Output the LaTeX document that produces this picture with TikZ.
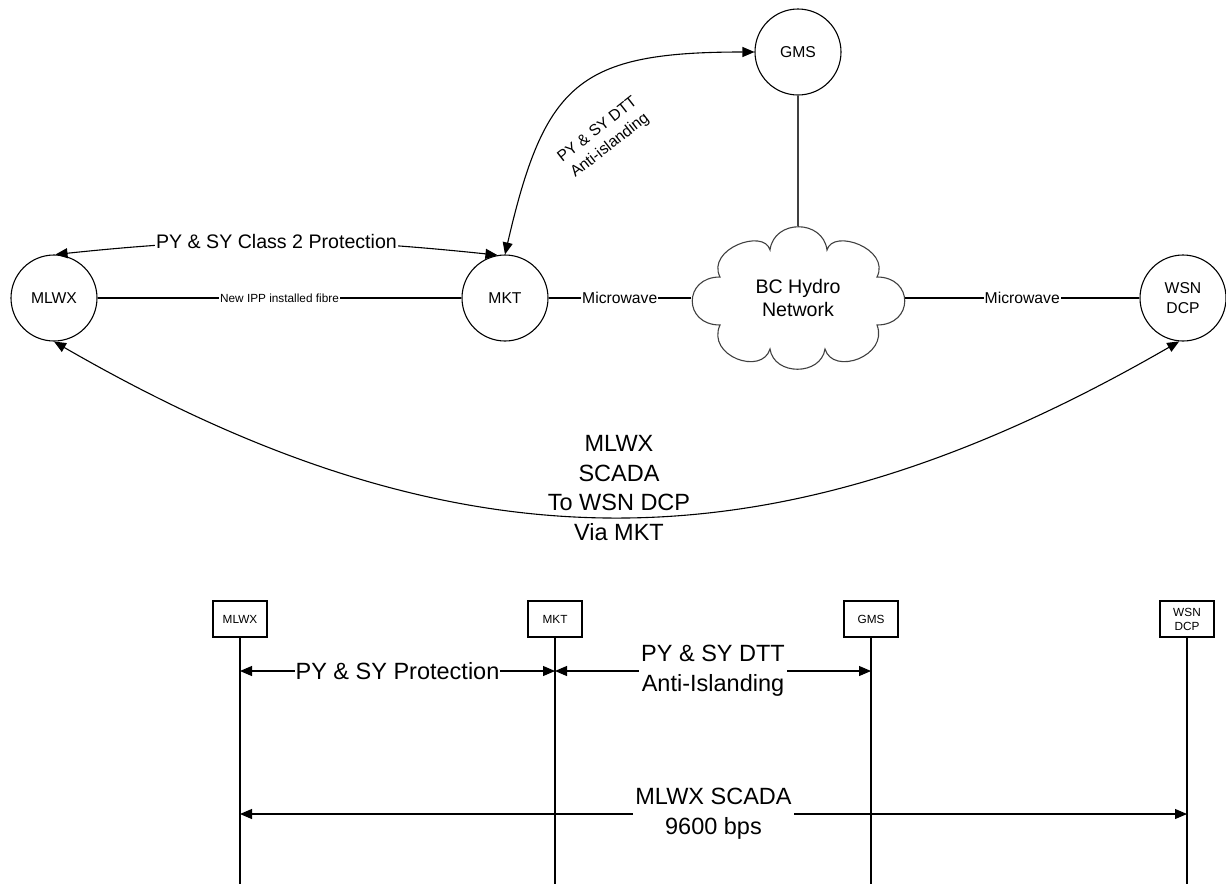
\documentclass[tikz,border=0pt]{standalone}
\usepackage{fontspec}
\setmainfont{Liberation Sans}
\usepackage{tikz}
\usetikzlibrary{positioning,calc,arrows.meta}

\begin{document}
\begin{tikzpicture}[x=1pt,y=1pt,line width=1.1pt,
        >={Triangle[length=12pt,width=10pt]},
        site/.style={draw,circle,minimum size=86pt,inner sep=0pt,align=center,font=\fontsize{15.7}{20}\selectfont},
        stn/.style={draw,rectangle,minimum width=54pt,minimum height=36pt,inner sep=0pt,align=center,font=\fontsize{11.8}{14}\selectfont},
        lbl/.style={fill=white,inner sep=1pt,align=center},
        big/.style={font=\fontsize{23.5}{29.6}\selectfont},
        mid/.style={font=\fontsize{19.6}{23}\selectfont},
        sml/.style={font=\fontsize{15.7}{20}\selectfont}]
    \useasboundingbox (0,0) rectangle (1226,-884);

    % network view
    \node[site] (mlwx) at (54,-298) {MLWX};
    \node[site] (mkt) at (505,-298) {MKT};
    \node[site] (gms) at (798,-52) {GMS};
    \node[site] (wsn) at (1183,-298) {WSN\\DCP};
    \node[minimum width=213pt,minimum height=142pt,inner sep=0pt,align=center,mid] (net) at (798,-298) {BC Hydro\\Network};
    % cloud outline
    \begin{scope}[shift={(net.center)},draw=black!75]
        \draw (-78,21) .. controls (-115,21) and (-115,-27) .. (-78,-27)
              .. controls (-92,-58) and (-36,-78) .. (-28,-51)
              .. controls (-24,-78) and (23,-78) .. (27,-51)
              .. controls (35,-78) and (91,-58) .. (79,-27)
              .. controls (116,-27) and (116,21) .. (79,21)
              .. controls (93,49) and (35,70) .. (29,48)
              .. controls (25,79) and (-24,79) .. (-28,48)
              .. controls (-34,70) and (-92,49) .. cycle;
    \end{scope}

    \draw (mlwx) -- node[lbl,font=\fontsize{11.8}{14}\selectfont] {New IPP installed fibre} (mkt);
    \draw (mkt) -- node[lbl,sml] {Microwave} (net);
    \draw (net) -- node[lbl,sml] {Microwave} (wsn);
    \draw[black!75] (gms) -- (net);

    \draw[<->] (mlwx.88) to[out=6,in=174] node[lbl,mid] {PY \& SY Class 2 Protection} (mkt.100);
    \draw[<->] (mkt.north) to[out=77,in=180,looseness=1.4] (gms.west);
    \node[sml,rotate=38,align=center] (dttlbl) at (604,-138) {PY \& SY DTT\\Anti-islanding};
    \draw[<->] (mlwx.south) .. controls +(-30:467) and +(210:467) .. (wsn.-95);
    \node[big,align=center] (scadalbl) at (619,-488) {MLWX\\SCADA\\To WSN DCP\\Via MKT};

    % sequence view
    \coordinate (row1) at (0,-671);
    \coordinate (row2) at (0,-814);
    \coordinate (foot) at (0,-884);
    \foreach \name/\label/\position in {bmlwx/MLWX/240, bmkt/MKT/555, bgms/GMS/871, bwsn/{WSN\\DCP}/1187} {
        \node[stn] (\name) at (\position,-619) {\label};
        \draw (\name.south) -- (\name.south |- foot);
    }
    \draw[<->] (bmlwx |- row1) -- node[lbl,big] {PY \& SY Protection} (bmkt |- row1);
    \draw[<->] (bmkt |- row1) -- node[lbl,big,inner sep=2pt] {PY \& SY DTT\\Anti-Islanding} (bgms |- row1);
    \draw[<->] (bmlwx |- row2) -- node[lbl,big,inner sep=2pt] {MLWX SCADA\\9600 bps} (bwsn |- row2);
\end{tikzpicture}
\end{document}
